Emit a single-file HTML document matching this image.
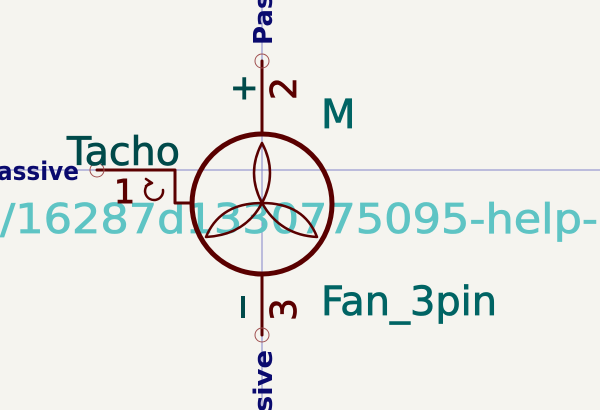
<!DOCTYPE html>
<html><head><meta charset="utf-8"><style>
html,body{margin:0;padding:0;background:#f5f4ef;}
svg{display:block;}
text{font-family:"DejaVu Sans","Liberation Sans",sans-serif;}
</style></head><body>
<svg width="600" height="410" viewBox="0 0 600 410" xmlns="http://www.w3.org/2000/svg">
<rect width="600" height="410" fill="#f5f4ef"/>
<line x1="0" y1="170" x2="600" y2="170" stroke="#8484c8" stroke-width="1"/>
<line x1="262" y1="0" x2="262" y2="410" stroke="#8484c8" stroke-width="1"/>
<text x="-14" y="233" font-size="41" fill="#5ec4c4" stroke="#5ec4c4" stroke-width="0.8" textLength="612" lengthAdjust="spacingAndGlyphs">./16287d1330775095-help-</text>
<g stroke="#5a0000" fill="none" stroke-linecap="round" stroke-linejoin="round">
<circle cx="262" cy="204" r="70" stroke-width="5"/>
<path d="M262,143 Q246,173 262,203 Q278,173 262,143" stroke-width="2.5"/>
<path d="M262,203 Q220,203 206,237 Q245,235 262,203" stroke-width="2.5"/>
<path d="M262,203 Q304,203 317,237 Q280,235 262,203" stroke-width="2.5"/>
<line x1="262" y1="61" x2="262" y2="133" stroke-width="3"/>
<line x1="262" y1="275" x2="262" y2="335" stroke-width="3"/>
<polyline points="97,170 175,170 175,203 192,203" stroke-width="3"/>
<path d="M150,183 A9,9 0 1 0 163,190" stroke-width="2.5"/>
<path d="M146,179 L152,183 L146,186" stroke-width="2.5"/>
</g>
<g stroke="#a05050" fill="none" stroke-width="1">
<circle cx="262" cy="61" r="7"/><circle cx="262" cy="335" r="7"/><circle cx="97" cy="170" r="7"/>
</g>
<text x="114" y="203" font-size="33" fill="#5a0000" stroke="#5a0000" stroke-width="1">1</text>
<text transform="translate(296,100) rotate(-90)" font-size="36" fill="#5a0000" stroke="#5a0000" stroke-width="0.8">2</text>
<text transform="translate(296,321) rotate(-90)" font-size="36" fill="#5a0000" stroke="#5a0000" stroke-width="0.8">3</text>
<text x="230" y="99" font-size="34" fill="#004a4a" stroke="#004a4a" stroke-width="1">+</text>
<rect x="241" y="296" width="4" height="22" fill="#004a4a"/>
<text x="67" y="165" font-size="39" fill="#004a4a" stroke="#004a4a" stroke-width="0.8" textLength="113" lengthAdjust="spacingAndGlyphs">Tacho</text>
<text x="321" y="128" font-size="40" fill="#006464" stroke="#006464" stroke-width="0.8">M</text>
<text x="321" y="315" font-size="40" fill="#006464" stroke="#006464" stroke-width="0.8" textLength="176" lengthAdjust="spacingAndGlyphs">Fan_3pin</text>
<text x="-3" y="180" font-size="26" font-weight="bold" fill="#0a0a6e" textLength="82" lengthAdjust="spacingAndGlyphs">assive</text>
<text transform="translate(272,45) rotate(-90)" font-size="26" font-weight="bold" fill="#0a0a6e">Passive</text>
<text transform="translate(272,412) rotate(-90)" font-size="26" font-weight="bold" fill="#0a0a6e" textLength="62" lengthAdjust="spacingAndGlyphs">sive</text>
</svg>
</body></html>
